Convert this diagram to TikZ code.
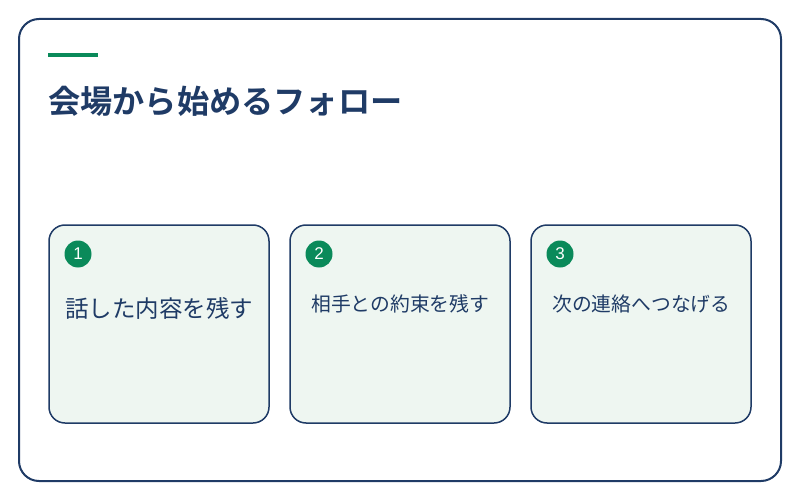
\documentclass[tikz,border=0pt]{standalone}
\usepackage{fontspec}
\setmainfont{Noto Sans CJK JP}
\newfontfamily\titlefont{Noto Sans CJK JP Bold}
\newfontfamily\digitfont{Liberation Sans}
\usetikzlibrary{positioning}
\definecolor{navy}{HTML}{1F3B66}
\definecolor{leaf}{HTML}{0A8A5A}
\definecolor{mint}{HTML}{EEF6F1}
\tikzset{
x=1pt, y=-1pt, % pixel-like coordinates
frame/.style={draw=navy, line width=2pt, rounded corners=20pt}, % the outer panel
card/.style={draw=navy, line width=1.5pt, fill=mint, rounded corners=16pt, minimum width=220pt, minimum height=198pt, inner sep=0pt, outer sep=0pt}, % one step card
badge/.style={circle, fill=leaf, text=white, minimum size=27pt, inner sep=0pt, font=\digitfont\fontsize{17}{17}\selectfont}, % step number
steptext/.style={anchor=west, inner sep=0pt, text=navy}, % card text
}
\begin{document}
\begin{tikzpicture}
        \useasboundingbox (0,0) rectangle (800,500);
        \draw[frame] (19,19) rectangle (781,481);
        \draw[leaf, line width=4pt] (48,55) -- (98,55);
        \node[anchor=west, inner sep=0pt, text=navy, font=\titlefont\fontsize{32.2}{36}\selectfont] (title) at (48,101) {会場から始めるフォロー};
        \node[card, anchor=north west] (c1) at (49,225) {};
        \node[card, right=21pt of c1] (c2) {};
        \node[card, right=21pt of c2] (c3) {};
        \node[badge] (b1) at ([shift={(29pt,-29pt)}]c1.north west) {1};
        \node[badge] (b2) at ([shift={(29pt,-29pt)}]c2.north west) {2};
        \node[badge] (b3) at ([shift={(29pt,-29pt)}]c3.north west) {3};
        \node[steptext, font=\fontsize{23.5}{26}\selectfont] (t1) at ([shift={(16pt,-83pt)}]c1.north west) {話した内容を残す};
        \node[steptext, font=\fontsize{19.8}{22}\selectfont] (t2) at ([shift={(21pt,-79pt)}]c2.north west) {相手との約束を残す};
        \node[steptext, font=\fontsize{19.8}{22}\selectfont] (t3) at ([shift={(21pt,-79pt)}]c3.north west) {次の連絡へつなげる};
\end{tikzpicture}
\end{document}
